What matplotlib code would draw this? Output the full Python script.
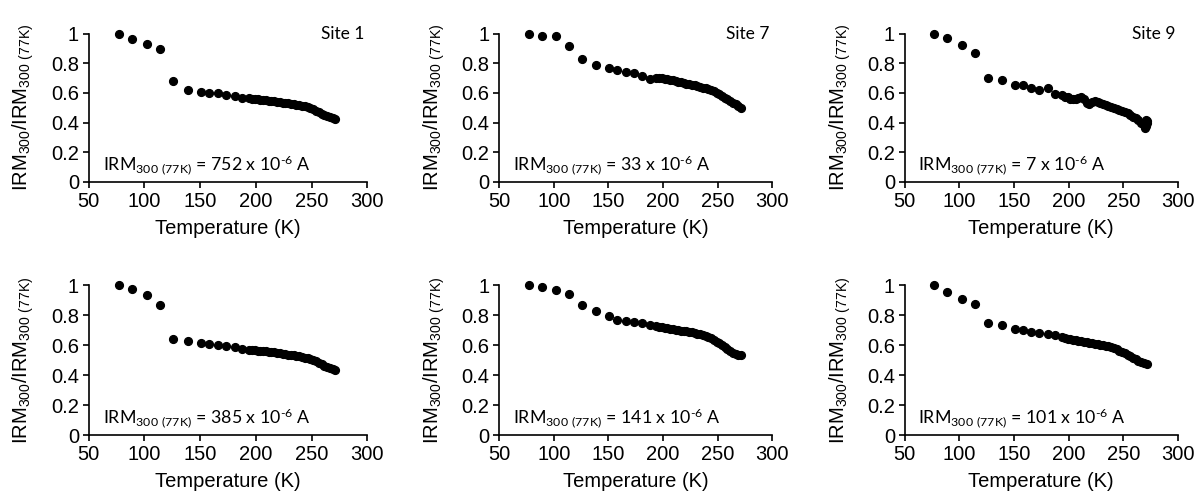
import matplotlib
matplotlib.use('Agg')
import matplotlib.pyplot as plt

plt.rcParams['font.family'] = 'Liberation Sans'
plt.rcParams['mathtext.default'] = 'regular'

# Temperatures (K), shared by all six panels
temps = [77, 89, 102, 114, 126, 139, 151, 158, 166, 173, 181, 188,
         194, 196.5, 199, 201.5, 204, 206.5, 209, 211.5, 214, 216.5, 219, 221.5,
         224, 226.5, 229, 231.5, 234, 236.5, 239, 241.5, 244, 246.5, 249, 251.5,
         254, 256.5, 259, 261.5, 264, 266.5, 269, 271.5]

# normalised IRM for each panel
site1_top = [1.0, 0.966, 0.930, 0.896, 0.677, 0.621, 0.607, 0.600, 0.596, 0.589, 0.578, 0.567,
             0.563, 0.561, 0.559, 0.557, 0.555, 0.553, 0.550, 0.548, 0.546, 0.544, 0.541, 0.538,
             0.535, 0.532, 0.529, 0.526, 0.523, 0.520, 0.517, 0.513, 0.509, 0.504, 0.497, 0.489,
             0.480, 0.470, 0.460, 0.450, 0.441, 0.434, 0.428, 0.424]
site7_top = [1.0, 0.986, 0.982, 0.914, 0.831, 0.788, 0.765, 0.752, 0.743, 0.731, 0.713, 0.691,
             0.700, 0.699, 0.697, 0.694, 0.691, 0.688, 0.684, 0.679, 0.675, 0.671, 0.667, 0.663,
             0.659, 0.654, 0.650, 0.645, 0.640, 0.635, 0.630, 0.625, 0.619, 0.611, 0.601, 0.590,
             0.579, 0.568, 0.557, 0.546, 0.535, 0.524, 0.512, 0.497]
site9_top = [1.0, 0.970, 0.925, 0.868, 0.702, 0.686, 0.652, 0.652, 0.636, 0.620, 0.632, 0.591,
             0.583, 0.575, 0.570, 0.562, 0.558, 0.560, 0.568, 0.575, 0.560, 0.535, 0.528, 0.540,
             0.548, 0.540, 0.530, 0.522, 0.515, 0.510, 0.503, 0.497, 0.490, 0.484, 0.478, 0.470,
             0.462, 0.452, 0.440, 0.428, 0.415, 0.400, 0.385, 0.410]
site9_extra_t = [270, 271, 272, 270.5]
site9_extra_v = [0.36, 0.375, 0.395, 0.42]
site1_bot = [1.0, 0.971, 0.934, 0.866, 0.640, 0.627, 0.611, 0.605, 0.600, 0.596, 0.585, 0.576,
             0.570, 0.568, 0.566, 0.564, 0.562, 0.560, 0.558, 0.556, 0.554, 0.551, 0.549, 0.546,
             0.543, 0.540, 0.537, 0.534, 0.531, 0.528, 0.525, 0.521, 0.517, 0.512, 0.506, 0.499,
             0.491, 0.482, 0.472, 0.462, 0.453, 0.445, 0.439, 0.435]
site7_bot = [1.0, 0.984, 0.966, 0.940, 0.868, 0.826, 0.792, 0.770, 0.763, 0.754, 0.747, 0.736,
             0.727, 0.722, 0.718, 0.715, 0.712, 0.709, 0.706, 0.703, 0.700, 0.697, 0.694, 0.691,
             0.688, 0.684, 0.680, 0.676, 0.671, 0.666, 0.660, 0.654, 0.646, 0.636, 0.624, 0.611,
             0.598, 0.585, 0.572, 0.560, 0.550, 0.542, 0.536, 0.532]
site9_bot = [1.0, 0.951, 0.909, 0.871, 0.744, 0.731, 0.704, 0.698, 0.689, 0.678, 0.673, 0.667,
             0.652, 0.647, 0.643, 0.639, 0.635, 0.631, 0.628, 0.625, 0.622, 0.619, 0.616, 0.613,
             0.610, 0.607, 0.604, 0.600, 0.596, 0.591, 0.585, 0.579, 0.572, 0.564, 0.555, 0.545,
             0.535, 0.525, 0.515, 0.505, 0.496, 0.488, 0.481, 0.476]

series = [site1_top, site7_top, site9_top, site1_bot, site7_bot, site9_bot]
site_names = ['Site 1', 'Site 7', 'Site 9', '', '', '']
irm_values = ['752', '33', '7', '385', '141', '101']

fig = plt.figure(figsize=(12, 4.94), dpi=100)

lefts = [0.074, 0.416, 0.754]
widths = [0.232, 0.2275, 0.2275]
bottoms = [0.632, 0.119]
heights = [0.300, 0.304]

for i in range(6):
    row, col = divmod(i, 3)
    ax = fig.add_axes([lefts[col], bottoms[row], widths[col], heights[row]])
    ax.plot(temps, series[i], 'o', color='black', ms=5.6, clip_on=False)
    if i == 2:
        ax.plot(site9_extra_t, site9_extra_v, 'o', color='black', ms=5.6, clip_on=False)
    ax.set_xlim(50, 300)
    ax.set_ylim(0, 1)
    ax.set_xticks([50, 100, 150, 200, 250, 300])
    ax.set_yticks([0, 0.2, 0.4, 0.6, 0.8, 1])
    ax.set_yticklabels(['0', '0.2', '0.4', '0.6', '0.8', '1'])
    ax.spines['top'].set_visible(False)
    ax.spines['right'].set_visible(False)
    ax.spines['left'].set_linewidth(1.2)
    ax.spines['bottom'].set_linewidth(1.2)
    ax.tick_params(direction='out', length=4, width=1.2, labelsize=14.5, pad=3)
    ax.set_xlabel('Temperature (K)', fontsize=14.5, labelpad=6)
    ax.set_ylabel('IRM$_{300}$/IRM$_{300\\ (77K)}$', fontsize=14.5)
    ax.yaxis.set_label_coords(-0.19, 0.5)
    ax.patch.set_visible(False)
    if site_names[i]:
        ax.text(0.99, 1.0, site_names[i], transform=ax.transAxes, ha='right', va='center',
                fontsize=12.5, family='Lato')
    ax.text(0.05, 0.11, 'IRM$_{300\\ (77K)}$ = ' + irm_values[i] + ' x 10$^{\u2010 6}$ A',
            transform=ax.transAxes, ha='left', va='center', fontsize=12.8, family='Lato')

fig.savefig('out.png', dpi=100)
